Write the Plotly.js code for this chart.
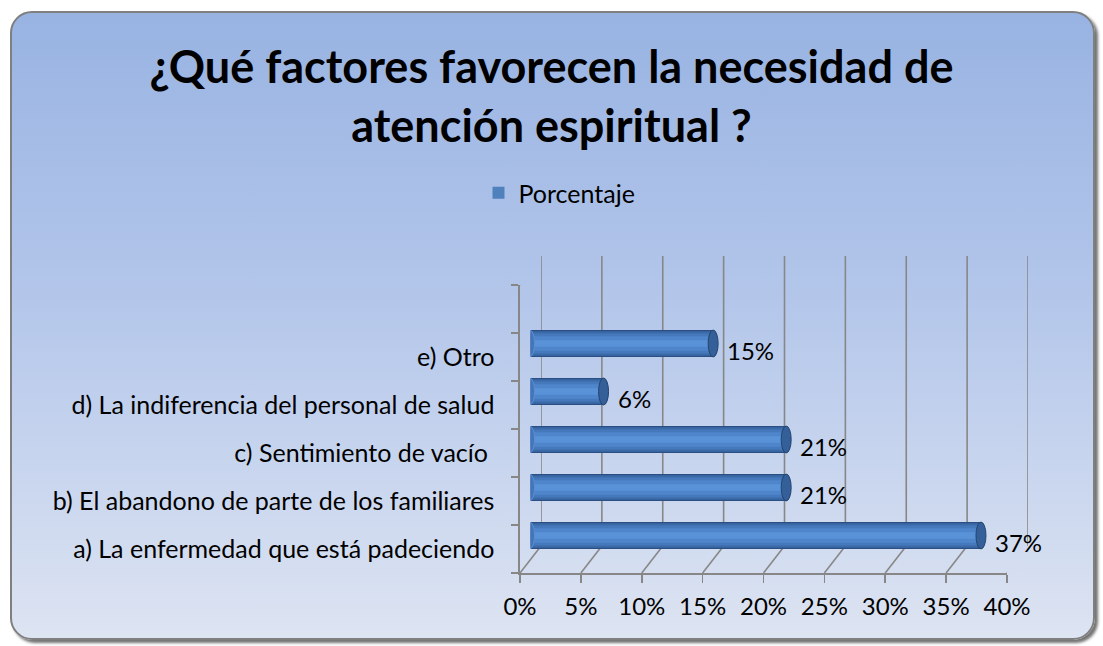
<!DOCTYPE html>
<html>
<head>
<meta charset="utf-8">
<script src="https://cdn.plot.ly/plotly-3.0.1.min.js"></script>
<style>
  html, body { margin: 0; padding: 0; background: #ffffff; }
  #wrap { position: relative; width: 1103px; height: 646px; overflow: hidden; }
  #frame {
    position: absolute; left: 10px; top: 11px; width: 1081px; height: 625px;
    border: 2px solid #7f7f7f; border-radius: 22px;
    background: linear-gradient(to bottom, #98b3e2 0%, #b3c6ea 45%, #dde4f2 100%);
    box-shadow: 3px 3px 3px rgba(0,0,0,0.55);
  }
  #chart { position: absolute; left: 0; top: 0; width: 1103px; height: 646px; }
</style>
</head>
<body>
<div id="wrap">
  <div id="frame"></div>
  <div id="chart"></div>
</div>
<script>
// ---- data ----
const categories = [
  'a) La enfermedad que está padeciendo',
  'b) El abandono de parte de los familiares',
  'c) Sentimiento de vacío\u00a0',
  'd) La indiferencia del personal de salud',
  'e) Otro'
];
const values = [0.37, 0.21, 0.21, 0.06, 0.15];
const valueLabels = ['37%', '21%', '21%', '6%', '15%'];
const xTickVals = [0, 0.05, 0.10, 0.15, 0.20, 0.25, 0.30, 0.35, 0.40];
const xTickText = ['0%', '5%', '10%', '15%', '20%', '25%', '30%', '35%', '40%'];
const seriesName = 'Porcentaje';
const titleText = '¿Qué factores favorecen la necesidad de<br>atención espiritual ?';

// ---- geometry (pixels) ----
const W = 1103, H = 646;
const FX0 = 520, FX1 = 1007, FYT = 285, FYB = 573;   // front plane
const DX = 21, DY = 27;                              // 3D depth offset
const fx = p => p / W, fy = p => 1 - p / H;
const yRange = [-0.5, categories.length + 0.5];
const idx = categories.map((c, i) => i);
const GRID = '#878787';
const FONT = 'Lato, "Open Sans", sans-serif';

// cylinder layers (outer dark -> inner light)
const layers = [
  {w: 0.56, c: '#2b4f82'},
  {w: 0.51, c: '#3b6aa9'},
  {w: 0.42, c: '#4679bc'},
  {w: 0.30, c: '#4f86cb'},
  {w: 0.14, c: '#5a92d7'}
];
const traces = layers.map((L, k) => ({
  type: 'bar', orientation: 'h', x: values, y: idx, width: L.w,
  xaxis: 'x3', yaxis: 'y3', marker: {color: L.c, line: {width: 0}},
  name: seriesName, showlegend: false, hoverinfo: 'skip'
}));
// legend entry
traces.push({
  type: 'bar', orientation: 'h', x: [null], y: [null], xaxis: 'x3', yaxis: 'y3',
  marker: {color: '#4f81bd'}, name: seriesName, showlegend: true
});
// keep back-wall axes alive
traces.push({type: 'scatter', x: [0], y: [0], xaxis: 'x2', yaxis: 'y2', mode: 'markers',
  marker: {opacity: 0}, showlegend: false, hoverinfo: 'skip'});

const shapes = [];
// back wall vertical gridlines
xTickVals.forEach(v => {
  shapes.push({type: 'line', xref: 'x2', yref: 'y2 domain', x0: v, x1: v, y0: 0, y1: 1,
    layer: 'below', line: {color: GRID, width: 1.6}});
});
// floor diagonals from front ticks to back wall
xTickVals.forEach(v => {
  shapes.push({type: 'line', xref: 'x', yref: 'y', xsizemode: 'pixel', ysizemode: 'pixel',
    xanchor: v, yanchor: yRange[0], x0: 0, x1: DX, y0: 0, y1: DY,
    layer: 'below', line: {color: GRID, width: 1.6}});
});
// left wall top diagonal
shapes.push({type: 'line', xref: 'x', yref: 'y', xsizemode: 'pixel', ysizemode: 'pixel',
  xanchor: 0, yanchor: yRange[1], x0: 0, x1: DX, y0: 0, y1: DY + 2,
  line: {color: GRID, width: 1.6}});
// cylinder end caps
values.forEach((v, i) => {
  shapes.push({type: 'circle', xref: 'x3', yref: 'y3', xsizemode: 'pixel', xanchor: 0,
    x0: -4, x1: 4, y0: i - 0.27, y1: i + 0.27,
    fillcolor: '#4375b8', line: {color: '#5a8fd4', width: 1}});
  shapes.push({type: 'circle', xref: 'x3', yref: 'y3', xsizemode: 'pixel', xanchor: v,
    x0: -5, x1: 5, y0: i - 0.28, y1: i + 0.28,
    fillcolor: '#345f99', line: {color: '#23446f', width: 1}});
});

const annotations = values.map((v, i) => ({
  xref: 'x3', yref: 'y3', x: v, y: i, text: valueLabels[i], showarrow: false,
  xanchor: 'left', yanchor: 'middle', xshift: 12, yshift: -7,
  font: {family: FONT, size: 24, color: '#000000'}
}));

const layout = {
  width: W, height: H,
  margin: {l: 0, r: 0, t: 0, b: 0},
  paper_bgcolor: 'rgba(0,0,0,0)', plot_bgcolor: 'rgba(0,0,0,0)',
  barmode: 'overlay',
  title: {text: titleText, x: 0.5, xanchor: 'center', y: fy(83), yanchor: 'middle',
    font: {family: FONT, size: 45, color: '#000000', weight: 'bold'}},
  showlegend: true,
  legend: {orientation: 'h', x: 0.5 + 8 / W, xanchor: 'center', y: fy(193), yanchor: 'middle',
    bgcolor: 'rgba(0,0,0,0)', font: {family: FONT, size: 25, color: '#000000'}},
  // front axes
  xaxis: {domain: [fx(FX0), fx(FX1)], range: [0, 0.40], anchor: 'y',
    tickvals: xTickVals, ticktext: xTickText, ticks: 'outside', ticklen: 8,
    tickcolor: GRID, tickwidth: 1.6, showline: true, linecolor: GRID, linewidth: 1.6,
    showgrid: false, zeroline: false, ticklabelstandoff: 4,
    tickfont: {family: FONT, size: 24, color: '#000000'}, fixedrange: true},
  yaxis: {domain: [fy(FYB), fy(FYT)], range: yRange, anchor: 'x',
    tickvals: idx, ticktext: categories, ticks: '', showline: true, linecolor: GRID,
    linewidth: 1.6, showgrid: false, zeroline: false, ticklabelstandoff: 19,
    minor: {tickvals: idx.map(i => i - 0.5).concat([categories.length - 0.5, categories.length + 0.5]),
      ticks: 'outside', ticklen: 7, tickcolor: GRID, tickwidth: 1.6, showgrid: false},
    tickfont: {family: FONT, size: 25, color: '#000000'}, fixedrange: true},
  // back wall
  xaxis2: {domain: [fx(FX0 + DX), fx(FX1 + DX)], range: [0, 0.40], anchor: 'y2',
    showticklabels: false, ticks: '', showgrid: false, zeroline: false, showline: false, fixedrange: true},
  yaxis2: {domain: [fy(FYB - DY), fy(FYT - DY - 2)], range: yRange, anchor: 'x2',
    showticklabels: false, ticks: '', showgrid: false, zeroline: false, showline: false, fixedrange: true},
  // bar plane (mid depth)
  xaxis3: {domain: [fx(FX0 + DX / 2), fx(FX1 + DX / 2)], range: [0, 0.40], anchor: 'y3',
    visible: false, fixedrange: true},
  yaxis3: {domain: [fy(FYB - DY / 2), fy(FYT - DY / 2)], range: yRange, anchor: 'x3',
    visible: false, fixedrange: true},
  shapes: shapes,
  annotations: annotations
};

Plotly.newPlot('chart', traces, layout, {displayModeBar: false, staticPlot: true});
</script>
</body>
</html>
